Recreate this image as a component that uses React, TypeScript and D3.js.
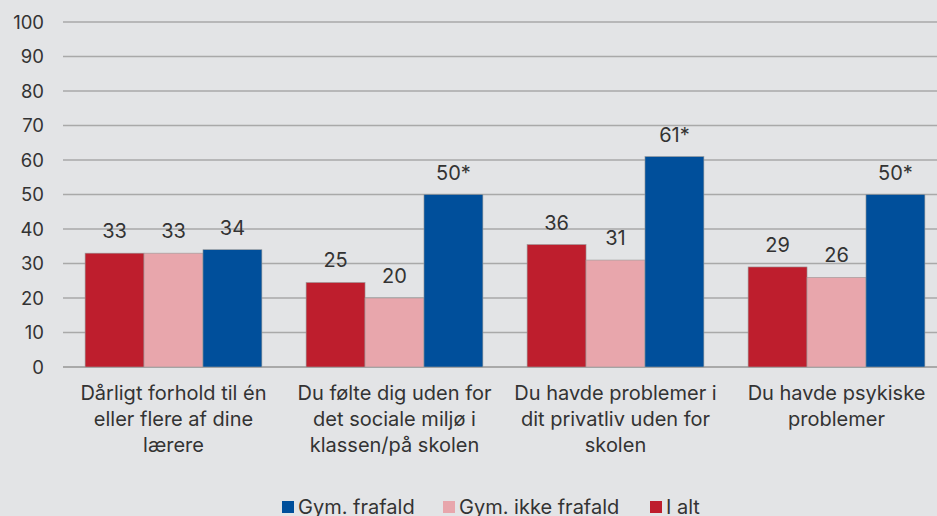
import React, { useEffect, useRef } from "react";
import * as d3 from "d3";

const categories = [
  "Dårligt forhold til én|eller flere af dine|lærere",
  "Du følte dig uden for|det sociale miljø i|klassen/på skolen",
  "Du havde problemer i|dit privatliv uden for|skolen",
  "Du havde psykiske|problemer",
];

const seriesNames = ["I alt", "Gym. ikke frafald", "Gym. frafald"];
const legendOrder = ["Gym. frafald", "Gym. ikke frafald", "I alt"];

const iAlt = [33, 24.5, 35.5, 29];
const gymIkkeFrafald = [33, 20, 31, 26];
const gymFrafald = [34, 50, 61, 50];

const iAltLabels = ["33", "25", "36", "29"];
const gymIkkeFrafaldLabels = ["33", "20", "31", "26"];
const gymFrafaldLabels = ["34", "50*", "61*", "50*"];

const yTicks = [0, 10, 20, 30, 40, 50, 60, 70, 80, 90, 100];

const colors: Record<string, string> = {
  "I alt": "#be1e2d",
  "Gym. ikke frafald": "#e8a6ac",
  "Gym. frafald": "#004f9b",
};

const App = () => {
  const chartRef = useRef<HTMLDivElement>(null);

  useEffect(() => {
    const width = 937;
    const height = 516;
    const font = "Inter, 'Noto Sans', sans-serif";
    const textColor = "#333333";

    d3.select(chartRef.current).selectAll("*").remove();

    const svg = d3
      .select(chartRef.current)
      .append("svg")
      .attr("width", width)
      .attr("height", height)
      .style("position", "absolute")
      .style("left", 0)
      .style("top", 0)
      .style("font-family", font);

    svg.append("rect").attr("width", width).attr("height", height).attr("fill", "#e3e4e6");

    const x = d3.scaleBand().domain(categories).range([63, 947]).paddingInner(0.2).paddingOuter(0.1);
    const xs = d3.scaleBand().domain(seriesNames).range([0, x.bandwidth()]);
    const y = d3.scaleLinear().domain([0, 100]).range([367, 22]);

    // gridlines + y tick labels
    svg
      .append("g")
      .selectAll("line")
      .data(yTicks)
      .join("line")
      .attr("x1", 63)
      .attr("x2", width)
      .attr("y1", (d) => y(d))
      .attr("y2", (d) => y(d))
      .attr("stroke", "#a9a9a9")
      .attr("stroke-width", (d) => (d === 0 ? 2 : 1.3));

    svg
      .append("g")
      .selectAll("text")
      .data(yTicks)
      .join("text")
      .attr("x", 44)
      .attr("y", (d) => y(d) + 6.5)
      .attr("text-anchor", "end")
      .attr("fill", textColor)
      .style("font-size", "18.5px")
      .text((d) => d);

    const table = [
      { name: "I alt", values: iAlt, labels: iAltLabels },
      { name: "Gym. ikke frafald", values: gymIkkeFrafald, labels: gymIkkeFrafaldLabels },
      { name: "Gym. frafald", values: gymFrafald, labels: gymFrafaldLabels },
    ];

    table.forEach((s) => {
      const g = svg.append("g");
      g.selectAll("rect")
        .data(s.values)
        .join("rect")
        .attr("x", (d, i) => (x(categories[i]) as number) + (xs(s.name) as number))
        .attr("y", (d) => y(d))
        .attr("width", xs.bandwidth())
        .attr("height", (d) => y(0) - y(d))
        .attr("fill", colors[s.name])
        .attr("stroke", "#9a9a9a")
        .attr("stroke-width", 0.6);

      g.selectAll("text")
        .data(s.values)
        .join("text")
        .attr("x", (d, i) => (x(categories[i]) as number) + (xs(s.name) as number) + xs.bandwidth() / 2)
        .attr("y", (d) => y(d) - 15)
        .attr("text-anchor", "middle")
        .attr("fill", textColor)
        .style("font-size", "20px")
        .text((d, i) => s.labels[i]);
    });

    // category labels
    categories.forEach((c) => {
      const t = svg
        .append("text")
        .attr("text-anchor", "middle")
        .attr("fill", textColor)
        .style("font-size", "20px");
      c.split("|").forEach((line, i) => {
        t.append("tspan")
          .attr("x", (x(c) as number) + x.bandwidth() / 2)
          .attr("y", 400 + i * 26)
          .text(line);
      });
    });

    // legend
    const legendX = [282, 443, 650];
    legendOrder.forEach((name, i) => {
      svg
        .append("rect")
        .attr("x", legendX[i])
        .attr("y", 501)
        .attr("width", 12)
        .attr("height", 12)
        .attr("fill", colors[name]);
      svg
        .append("text")
        .attr("x", legendX[i] + 16)
        .attr("y", 514)
        .attr("fill", textColor)
        .style("font-size", "20px")
        .text(name);
    });
  }, []);

  return <div ref={chartRef}></div>;
};

export default App;
